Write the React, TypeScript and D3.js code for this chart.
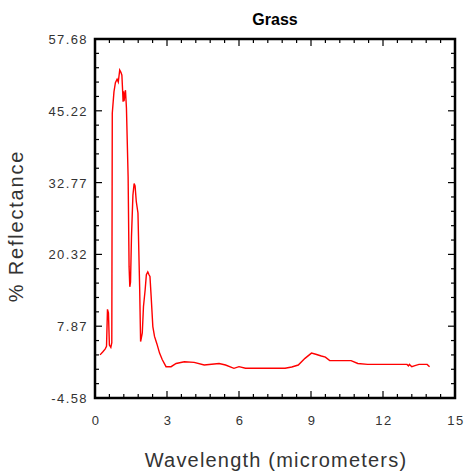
import * as d3 from "d3";

// spectral curve
const wavelength = [
  0.21, 0.32, 0.42, 0.48, 0.52, 0.56, 0.6, 0.66, 0.7, 0.72, 0.79, 0.85, 0.92, 0.97,
  1.03, 1.08, 1.12, 1.15, 1.17, 1.19, 1.21, 1.27, 1.31, 1.38, 1.42, 1.45, 1.48, 1.52,
  1.58, 1.63, 1.67, 1.72, 1.79, 1.86, 1.9, 1.92, 1.97, 2.02, 2.09, 2.14, 2.2, 2.25,
  2.29, 2.34, 2.41, 2.48, 2.58, 2.69, 2.8, 2.96, 3.17, 3.38, 3.72, 4.13, 4.55, 5.17,
  5.44, 5.79, 6.0, 6.27, 7.92, 8.2, 8.47, 8.75, 9.02, 9.2, 9.43, 9.6, 9.78, 10.67,
  10.95, 11.36, 13.0, 13.06, 13.1, 13.2, 13.3, 13.5, 13.84, 13.94,
];
const reflectance = [
  2.9, 3.4, 3.9, 4.4, 10.8, 10.2, 4.6, 4.2, 5.0, 44.8, 48.5, 50.1, 50.7, 50.2,
  52.3, 51.9, 51.4, 48.8, 46.8, 48.6, 46.9, 48.8, 45.7, 33.8, 18.2, 14.7, 15.5, 23.4,
  30.6, 32.6, 32.2, 29.5, 27.5, 14.7, 5.2, 5.6, 6.7, 11.3, 14.2, 16.8, 17.3, 16.8,
  16.5, 13.0, 7.8, 6.1, 4.8, 3.2, 2.1, 0.85, 0.85, 1.4, 1.7, 1.6, 1.14, 1.4,
  1.14, 0.57, 0.85, 0.57, 0.57, 0.8, 1.14, 2.3, 3.2, 3.0, 2.7, 2.5, 1.9, 1.9,
  1.4, 1.25, 1.25, 1.0, 1.25, 0.85, 1.0, 1.25, 1.25, 0.85,
];
const xTicks = [0, 3, 6, 9, 12, 15];
const yTicks = [-4.58, 7.87, 20.32, 32.77, 45.22, 57.68];

const W = 465;
const H = 472;
const left = 95, right = 455, top = 39, bottom = 398;

export default function App() {
  const x = d3.scaleLinear([0, 15], [left, right]);
  const y = d3.scaleLinear([-4.58, 57.68], [bottom, top]);

  const pts: [number, number][] = wavelength.map((w, i) => [w, reflectance[i]]);
  const path = d3.line<[number, number]>().x(d => x(d[0])).y(d => y(d[1]))(pts) || "";

  // minor ticks: 5 per major interval
  const xMinor = d3.range(0, 26).map(i => i * 0.6);
  const yMinor = d3.range(0, 26).map(i => -4.58 + i * (62.26 / 25));

  const font = "'Liberation Sans', Arial, sans-serif";

  return (
    <svg width={W} height={H} style={{ position: "absolute", left: 0, top: 0, background: "#fff" }}>
      <rect width={W} height={H} fill="#fff" />
      <text x={275} y={25} textAnchor="middle" fontFamily={font} fontWeight="bold" fontSize={16} fill="#000">
        Grass
      </text>

      <path d={path} fill="none" stroke="#ff0000" strokeWidth={1.4} />

      {/* inward ticks on all sides */}
      <g stroke="#000" strokeWidth={1.2}>
        {xMinor.map((t, i) => {
          const len = i % 5 === 0 ? 7 : 4;
          const px = x(t);
          return (
            <g key={"x" + i}>
              <line x1={px} x2={px} y1={bottom} y2={bottom - len} />
              <line x1={px} x2={px} y1={top} y2={top + len} />
            </g>
          );
        })}
        {yMinor.map((t, i) => {
          const len = i % 5 === 0 ? 7 : 4;
          const py = y(t);
          return (
            <g key={"y" + i}>
              <line x1={left} x2={left + len} y1={py} y2={py} />
              <line x1={right} x2={right - len} y1={py} y2={py} />
            </g>
          );
        })}
      </g>
      <rect x={left} y={top} width={right - left} height={bottom - top} fill="none" stroke="#000" strokeWidth={2.5} />

      <g fontFamily={font} fontSize={13} fill="#333" letterSpacing={1.4}>
        {yTicks.map(t => (
          <text key={t} x={88} y={y(t) + 5} textAnchor="end">
            {t.toFixed(2)}
          </text>
        ))}
        {xTicks.map(t => (
          <text key={t} x={x(t) + 1} y={425} textAnchor="middle">
            {t}
          </text>
        ))}
      </g>

      <text x={276} y={467} textAnchor="middle" fontFamily={font} fontSize={20} fill="#333" letterSpacing={1.2}>
        Wavelength (micrometers)
      </text>
      <text
        transform={`translate(23,226) rotate(-90)`}
        textAnchor="middle"
        fontFamily={font}
        fontSize={20}
        fill="#333"
        letterSpacing={1.8}
      >
        % Reflectance
      </text>
    </svg>
  );
}
